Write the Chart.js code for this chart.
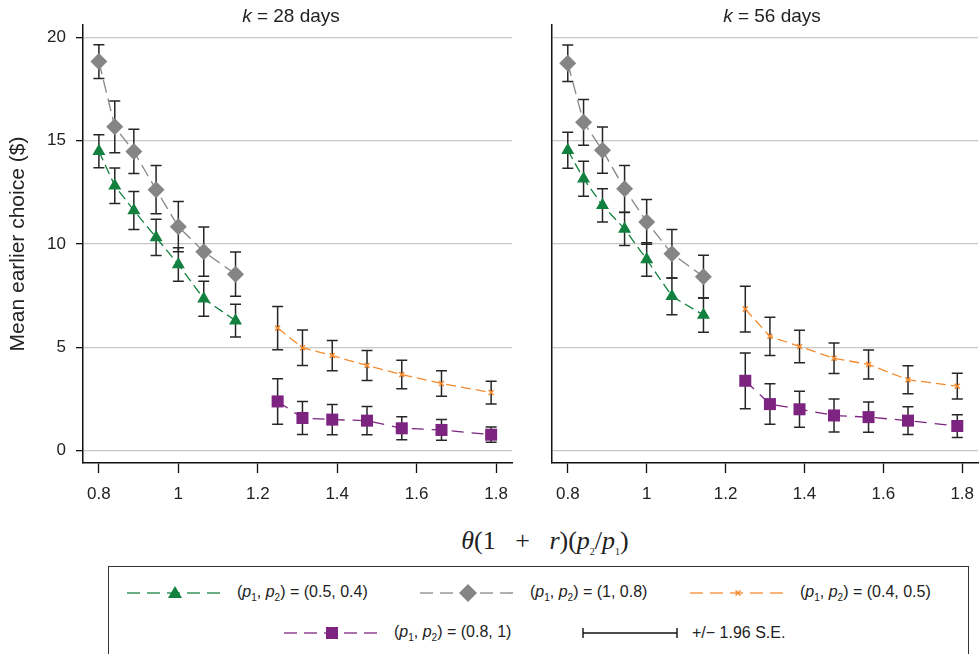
<!DOCTYPE html>
<html>
<head>
<meta charset="utf-8">
<script src="https://cdn.jsdelivr.net/npm/chart.js@4"></script>
<style>
  body { margin: 0; width: 980px; height: 654px; overflow: hidden; background: #fff; position: relative;
         font-family: "Liberation Sans", Arial, sans-serif; color: #222; }
  canvas { position: absolute; top: 0; }
  .ptitle { position: absolute; top: 5px; font-size: 19px; transform: translateX(-50%); white-space: nowrap; }
  .xtitle { position: absolute; top: 526px; left: 545px; transform: translateX(-50%);
            font-family: "Liberation Serif", "DejaVu Serif", serif; font-size: 26px; white-space: nowrap; }
  .legend { position: absolute; left: 108px; top: 566px; width: 859px; height: 110px; border: 1px solid #333; }
  .item { position: absolute; display: flex; align-items: center; font-size: 16px; white-space: nowrap; }
  .item svg { margin-right: 14px; }
  sub { font-size: 10px; }
</style>
</head>
<body>
<canvas id="left" width="530" height="520" style="left:0;width:530px;height:520px"></canvas>
<canvas id="right" width="460" height="520" style="left:540px;width:460px;height:520px"></canvas>

<div class="ptitle" style="left:291px"><i>k</i> = 28 days</div>
<div class="ptitle" style="left:772px"><i>k</i> = 56 days</div>
<div class="xtitle"><i>θ</i>(1 &nbsp; + &nbsp; <i>r</i>)(<i>p</i><sub>2</sub>/<i>p</i><sub>1</sub>)</div>

<div class="legend" id="legend"></div>

<script>
// x positions (theta(1+r)(p2/p1))
const xLow = [0.8, 0.84, 0.888, 0.944, 1.0, 1.064, 1.144];
const xHigh = [1.25, 1.3125, 1.3875, 1.475, 1.5625, 1.6625, 1.7875];
const xTicks = [0.8, 1, 1.2, 1.4, 1.6, 1.8];
const yTicks = [0, 5, 10, 15, 20];

// k = 28 days
const green28 = [14.49, 12.82, 11.62, 10.32, 9.01, 7.35, 6.29];
const green28Err = [0.8, 0.86, 0.92, 0.88, 0.81, 0.85, 0.79];
const gray28 = [18.83, 15.67, 14.48, 12.63, 10.84, 9.63, 8.54];
const gray28Err = [0.82, 1.25, 1.07, 1.17, 1.22, 1.19, 1.07];
const orange28 = [5.93, 4.98, 4.6, 4.12, 3.68, 3.25, 2.81];
const orange28Err = [1.05, 0.86, 0.73, 0.73, 0.69, 0.62, 0.55];
const purple28 = [2.38, 1.58, 1.5, 1.45, 1.08, 1.0, 0.77];
const purple28Err = [1.1, 0.8, 0.73, 0.68, 0.56, 0.5, 0.37];

// k = 56 days
const green56 = [14.54, 13.16, 11.87, 10.73, 9.25, 7.47, 6.56];
const green56Err = [0.87, 0.85, 0.8, 0.8, 0.81, 0.89, 0.83];
const gray56 = [18.75, 15.89, 14.54, 12.67, 11.07, 9.53, 8.42];
const gray56Err = [0.88, 1.11, 1.12, 1.13, 1.08, 1.17, 1.03];
const orange56 = [6.85, 5.53, 5.04, 4.47, 4.17, 3.43, 3.12];
const orange56Err = [1.11, 0.93, 0.79, 0.74, 0.7, 0.68, 0.62];
const purple56 = [3.38, 2.25, 2.0, 1.7, 1.62, 1.45, 1.19];
const purple56Err = [1.35, 0.98, 0.87, 0.8, 0.73, 0.67, 0.55];

const GREEN = '#12803f';
const GRAY = '#858585';
const ORANGE = '#f58a2e';
const PURPLE = '#7c2480';
const FONT = '"Liberation Sans", Arial, sans-serif';

// draws +/- 1.96 SE bars under the markers
const errorBars = {
    id: 'errorBars',
    beforeDatasetsDraw(chart){
        const ctx = chart.ctx;
        const xs = chart.scales.x, ys = chart.scales.y;
        ctx.save();
        ctx.strokeStyle = '#262626';
        ctx.lineWidth = 1.5;
        chart.data.datasets.forEach(ds => {
            ds.data.forEach((p, i) => {
                const x = xs.getPixelForValue(p.x);
                const t = ys.getPixelForValue(p.y + ds.errors[i]);
                const b = ys.getPixelForValue(p.y - ds.errors[i]);
                ctx.beginPath();
                ctx.moveTo(x, t); ctx.lineTo(x, b);
                ctx.moveTo(x - 5.5, t); ctx.lineTo(x + 5.5, t);
                ctx.moveTo(x - 5.5, b); ctx.lineTo(x + 5.5, b);
                ctx.stroke();
            });
        });
        ctx.restore();
    }
};

function series(xs, ys, errs, color, style, radius, dash){
    return {
        data: xs.map((x, i) => ({x: x, y: ys[i]})),
        errors: errs,
        borderColor: color,
        backgroundColor: color,
        borderWidth: 1.3,
        borderDash: dash,
        pointStyle: style,
        pointRadius: radius,
        pointBorderWidth: style === 'crossRot' ? 1.5 : 0,
        pointBorderColor: color,
        pointBackgroundColor: color,
        tension: 0,
        fill: false
    };
}

function makeChart(id, datasets, isLeft){
    new Chart(document.getElementById(id), {
        type: 'line',
        data: { datasets: datasets },
        plugins: [errorBars],
        options: {
            responsive: false,
            animation: false,
            layout: { padding: { top: 25, right: isLeft ? 18 : 22, left: 0, bottom: 0 } },
            plugins: { legend: { display: false }, tooltip: { enabled: false } },
            scales: {
                x: {
                    type: 'linear',
                    min: 0.76, max: 1.84,
                    afterBuildTicks: s => { s.ticks = xTicks.map(v => ({value: v})); },
                    afterFit: s => { s.height = 57; },
                    grid: { drawOnChartArea: false, tickLength: 10, tickColor: '#111', tickWidth: 1.3 },
                    border: { color: '#111', width: 1.5 },
                    ticks: { padding: 11, color: '#222', font: { family: FONT, size: 17 }, callback: v => String(v) }
                },
                y: {
                    min: -0.6, max: 20.6,
                    afterBuildTicks: s => { s.ticks = yTicks.map(v => ({value: v})); },
                    afterFit: s => { s.width = isLeft ? 83 : 12; },
                    grid: { color: '#c8c8c8', lineWidth: 1.3, drawTicks: isLeft, tickLength: 7, tickColor: '#111', tickWidth: 1.3 },
                    border: { color: '#111', width: 1.5 },
                    ticks: { display: isLeft, padding: 10, color: '#222', font: { family: FONT, size: 17 } },
                    title: { display: isLeft, text: 'Mean earlier choice ($)', color: '#222',
                             font: { family: FONT, size: 21 }, padding: { top: 6, bottom: 0 } }
                }
            }
        }
    });
}

makeChart('left', [
    series(xLow, green28, green28Err, GREEN, 'triangle', 7.5, [10, 5]),
    series(xLow, gray28, gray28Err, GRAY, 'rectRot', 8.5, [13, 6]),
    series(xHigh, orange28, orange28Err, ORANGE, 'crossRot', 3.5, [10, 5]),
    series(xHigh, purple28, purple28Err, PURPLE, 'rect', 8.5, [12, 8])
], true);

makeChart('right', [
    series(xLow, green56, green56Err, GREEN, 'triangle', 7.5, [10, 5]),
    series(xLow, gray56, gray56Err, GRAY, 'rectRot', 8.5, [13, 6]),
    series(xHigh, orange56, orange56Err, ORANGE, 'crossRot', 3.5, [10, 5]),
    series(xHigh, purple56, purple56Err, PURPLE, 'rect', 8.5, [12, 8])
], false);

// legend
function marker(kind, color){
    if (kind === 'triangle') return `<polygon points="48,3 55,15 41,15" fill="${color}"/>`;
    if (kind === 'diamond') return `<polygon points="48,1 57,10 48,19 39,10" fill="${color}"/>`;
    if (kind === 'cross') return `<path d="M45.5,7.5 L50.5,12.5 M50.5,7.5 L45.5,12.5" stroke="${color}" stroke-width="1.5"/>`;
    if (kind === 'square') return `<rect x="42" y="4" width="12" height="12" fill="${color}"/>`;
    return '';
}
function sample(kind, color){
    if (kind === 'se') {
        return `<svg width="96" height="20"><path d="M1,10 H95 M1,5 V15 M95,5 V15" stroke="#111" stroke-width="1.4" fill="none"/></svg>`;
    }
    return `<svg width="96" height="20"><line x1="0" y1="10" x2="96" y2="10" stroke="${color}" stroke-opacity="0.85" stroke-width="1.6" stroke-dasharray="13 7"/>${marker(kind, color)}</svg>`;
}
const pp = '(<i>p</i><sub>1</sub>, <i>p</i><sub>2</sub>) = ';
const legendItems = [
    { left: 18, top: 16, kind: 'triangle', color: GREEN, text: pp + '(0.5, 0.4)' },
    { left: 311, top: 16, kind: 'diamond', color: GRAY, text: pp + '(1, 0.8)' },
    { left: 581, top: 16, kind: 'cross', color: ORANGE, text: pp + '(0.4, 0.5)' },
    { left: 175, top: 56, kind: 'square', color: PURPLE, text: pp + '(0.8, 1)' },
    { left: 473, top: 56, kind: 'se', color: '#111', text: '+/− 1.96 S.E.' }
];
const legend = document.getElementById('legend');
legendItems.forEach(it => {
    const d = document.createElement('div');
    d.className = 'item';
    d.style.left = it.left + 'px';
    d.style.top = it.top + 'px';
    d.innerHTML = sample(it.kind, it.color) + '<span>' + it.text + '</span>';
    legend.appendChild(d);
});
</script>
</body>
</html>
